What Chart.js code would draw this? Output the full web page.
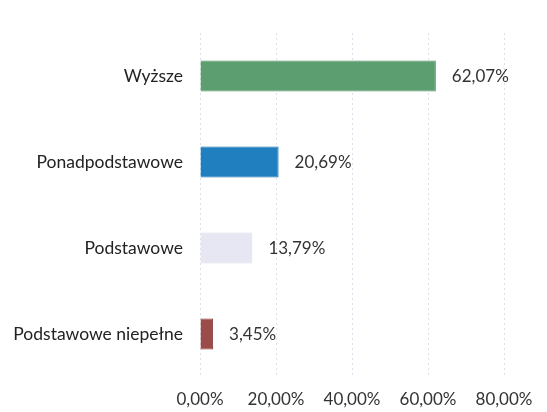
<!DOCTYPE html>
<html>
<head>
<meta charset="utf-8">
<script src="https://cdn.jsdelivr.net/npm/chart.js@4/dist/chart.umd.min.js"></script>
<style>
html,body{margin:0;padding:0;background:#fff;}
#wrap{width:547px;height:412px;position:relative;}
</style>
</head>
<body>
<div id="wrap"><canvas id="c"></canvas></div>
<script>
const categories = ["Wyższe", "Ponadpodstawowe", "Podstawowe", "Podstawowe niepełne"];
const values = [62.07, 20.69, 13.79, 3.45];
const barColors = ["#5c9e70", "#1f7fbf", "#e7e6f3", "#9c4b4b"];
const barBorders = ["#4f9063", "#1a70aa", "#dcdbec", "#8a3c3c"];
const xTicks = [0, 20, 40, 60, 80];

const fmt = v => v.toFixed(2).replace('.', ',') + '%';

const valueLabels = {
  id: 'valueLabels',
  afterDatasetsDraw(chart) {
    const ctx = chart.ctx;
    const meta = chart.getDatasetMeta(0);
    ctx.save();
    ctx.font = '17px Lato';
    ctx.fillStyle = '#333';
    ctx.textAlign = 'left';
    ctx.textBaseline = 'middle';
    meta.data.forEach((bar, i) => {
      ctx.fillText(fmt(values[i]), bar.x + 16, bar.y + 1);
    });
    ctx.restore();
  }
};

new Chart(document.getElementById('c'), {
  type: 'bar',
  data: {
    labels: categories,
    datasets: [{
      data: values,
      backgroundColor: barColors,
      borderColor: barBorders,
      borderWidth: 1,
      barPercentage: 0.36,
      categoryPercentage: 1.0
    }]
  },
  options: {
    indexAxis: 'y',
    responsive: true,
    maintainAspectRatio: false,
    animation: false,
    layout: { padding: { left: 0, right: 43, top: 33, bottom: 2 } },
    plugins: { legend: { display: false }, tooltip: { enabled: false } },
    scales: {
      x: {
        min: 0, max: 80,
        afterBuildTicks: ax => { ax.ticks = xTicks.map(v => ({ value: v })); },
        afterFit: ax => { ax.height = 33; },
        ticks: {
          callback: v => fmt(v),
          font: { family: 'Lato', size: 17 },
          color: '#333',
          padding: 12,
          maxRotation: 0
        },
        grid: { color: '#d9e0ea', drawTicks: false },
        border: { display: false, dash: [2, 3] }
      },
      y: {
        afterFit: ax => { ax.width = 200; },
        ticks: {
          font: { family: 'Lato', size: 17.5 },
          color: '#222',
          padding: 17
        },
        grid: { display: false, drawTicks: false },
        border: { display: false }
      }
    }
  },
  plugins: [valueLabels]
});
</script>
</body>
</html>
